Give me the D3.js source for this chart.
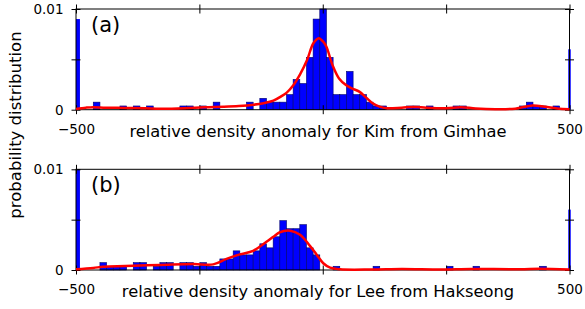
<!DOCTYPE html>
<html><head><meta charset="utf-8">
<script src="https://cdn.jsdelivr.net/npm/d3@7"></script>
<style>body{margin:0;background:#fff}svg{display:block}text{font-family:"DejaVu Sans",sans-serif;fill:#000}</style>
</head><body><svg id="c" width="585" height="309"></svg>
<script>
// ---------- data ----------
const binStart = -492, binWidth = 13.5;
const histA = [
 0,0,.00075,0,0,0,.00037,0,.00037,0,
 .00037,0,0,0,0,.00037,.00037,0,.00037,0,
 .00075,0,0,0,0,.00075,0,.00113,.00075,.00075,
 .00075,.0015,.003,.0026,.0052,.009,.01,.0052,.0015,.0015,
 .0038,.0015,.0015,.00075,.00037,.00037,0,0,0,.00037,
 .00037,0,.00037,0,0,0,.00037,.00037,0,0,
 0,0,0,0,0,0,.00037,.00075,.00037,.00037,
 0,.00037,0];
const histB = [
 0,0,0,.00073,.00037,.00037,.00037,0,.00073,.00073,
 0,.00037,.00073,.00073,0,.00073,.00073,.00037,.00073,.00037,
 .00037,.0011,.0011,.0019,.0015,.0015,.0019,.0026,.0022,.0033,
 .0049,.0041,.0041,.0045,.0022,.0015,0,0,.00037,0,
 0,0,0,0,.00037,0,0,0,0,0,
 0,0,0,0,0,.00037,0,0,0,.00037,
 0,0,0,0,0,0,0,0,0,.00037,
 0,0,0];
// spikes at the clipped ends [x0, x1, value]
const edgesA = [[-500,-492,.009],[497.5,502.5,.006]];
const edgesB = [[-500,-492,.01],[497.5,502.5,.006]];
// kde curves
const kdeAx = [-500,-480,-465,-440,-400,-360,-330,-280,-240,-200,-170,-140,-120,-100,-85,-73,-60,-46,-32,-19,-8,0,7,20,33,47,60,74,88,101,115,130,160,185,210,250,280,310,350,390,425,450,475,500];
const kdeAy = [.00008,.0002,.00025,.0002,.00018,.00015,.0001,.00015,.00025,.0003,.00037,.0005,.00065,.0009,.0013,.0017,.0024,.0035,.0049,.0066,.0071,.0068,.0063,.0044,.0031,.00245,.0021,.0018,.0012,.00064,.0003,.00014,.0002,.00028,.0002,.00015,.00025,.00012,.00005,.0001,.00042,.0003,.00012,.00005];
const kdeBx = [-500,-465,-445,-400,-330,-262,-222,-195,-168,-141,-114,-100,-87,-66,-46,-26,-12,1,15,35,100,160,240,300,400,440,500];
const kdeBy = [.00007,.0002,.00033,.0004,.0005,.0006,.00056,.0011,.00155,.0019,.0028,.0033,.00375,.0039,.0035,.0024,.0015,.00067,.00023,.00007,.00005,.0001,.00005,.0001,.00008,.00012,.00005];
const xTicks = [-500,-250,0,250,500];
const xTickLabels = {"-500":"\u2212500","500":"500"};
const yTicks = [0,.005,.01];
const yTickLabels = {"0":"0","0.01":"0.01"};
const panels = [
 {tag:"(a)", label:"relative density anomaly for Kim from Gimhae", hist:histA, edges:edgesA, kx:kdeAx, ky:kdeAy, top:9, bottom:109.7},
 {tag:"(b)", label:"relative density anomaly for Lee from Hakseong", hist:histB, edges:edgesB, kx:kdeBx, ky:kdeBy, top:169.3, bottom:270}
];
// ---------- drawing ----------
const svg = d3.select("#c");
const L = 76, R = 569.5;
const x = d3.scaleLinear().domain([-500,500]).range([L,R]);
panels.forEach(p=>{
  const y = d3.scaleLinear().domain([0,.01]).range([p.bottom,p.top]);
  const g = svg.append("g");
  // bars
  g.selectAll("rect.bar").data(p.hist.map((v,i)=>({i,v})).filter(d=>d.v>0)).join("rect")
    .attr("x",d=>x(binStart+d.i*binWidth)).attr("width",d=>x(binStart+(d.i+1)*binWidth)-x(binStart+d.i*binWidth))
    .attr("y",d=>y(d.v)).attr("height",d=>y(0)-y(d.v))
    .attr("fill","#0000ff").attr("stroke","#00006a").attr("stroke-width",0.6);
  g.selectAll("rect.edge").data(p.edges).join("rect")
    .attr("x",d=>x(d[0])).attr("width",d=>x(d[1])-x(d[0]))
    .attr("y",d=>y(d[2])).attr("height",d=>y(0)-y(d[2]))
    .attr("fill","#0000ff");
  // frame
  g.append("rect").attr("x",L).attr("y",p.top).attr("width",R-L).attr("height",p.bottom-p.top)
    .attr("fill","none").attr("stroke","#000").attr("stroke-width",1);
  // axes
  const tk = 4.5;
  const fmtX = d=>xTickLabels[String(d)]||"";
  const fmtY = d=>yTickLabels[String(d)]||"";
  const ax = [
    g.append("g").attr("transform",`translate(0,${p.bottom})`).call(d3.axisBottom(x).tickValues(xTicks).tickSize(tk).tickPadding(10).tickFormat(fmtX)),
    g.append("g").attr("transform",`translate(0,${p.top})`).call(d3.axisTop(x).tickValues(xTicks).tickSize(tk).tickFormat("")),
    g.append("g").attr("transform",`translate(${L},0)`).call(d3.axisLeft(y).tickValues(yTicks).tickSize(tk).tickPadding(8).tickFormat(fmtY)),
    g.append("g").attr("transform",`translate(${R},0)`).call(d3.axisRight(y).tickValues(yTicks).tickSize(tk).tickFormat(""))
  ];
  ax.forEach((a,k)=>{
    a.select(".domain").remove();
    a.selectAll(".tick line").attr("stroke","#000").attr("stroke-width",1);
    if(k<2) a.selectAll(".tick line").attr("y1",-tk).attr("y2",tk);
    else a.selectAll(".tick line").attr("x1",-tk).attr("x2",tk);
    a.selectAll(".tick text").attr("font-family","DejaVu Sans").attr("font-size",13.5).attr("fill","#000");
  });
  // axis label at tick-label line
  g.append("text").attr("x",318).attr("y",p.bottom+27.3).attr("text-anchor","middle")
    .attr("font-size",16.3).text(p.label);
  // panel tag
  g.append("text").attr("x",91).attr("y",p.top+23).attr("font-size",21).text(p.tag);
  // kde
  const line = d3.line().x((d,i)=>x(p.kx[i])).y(d=>y(d)).curve(d3.curveCatmullRom);
  g.append("path").attr("d",line(p.ky)).attr("fill","none").attr("stroke","#ff0000").attr("stroke-width",2.5);
});
svg.append("text").attr("transform","translate(21,125) rotate(-90)").attr("text-anchor","middle")
  .attr("font-size",16.5).text("probability distribution");
</script></body></html>
